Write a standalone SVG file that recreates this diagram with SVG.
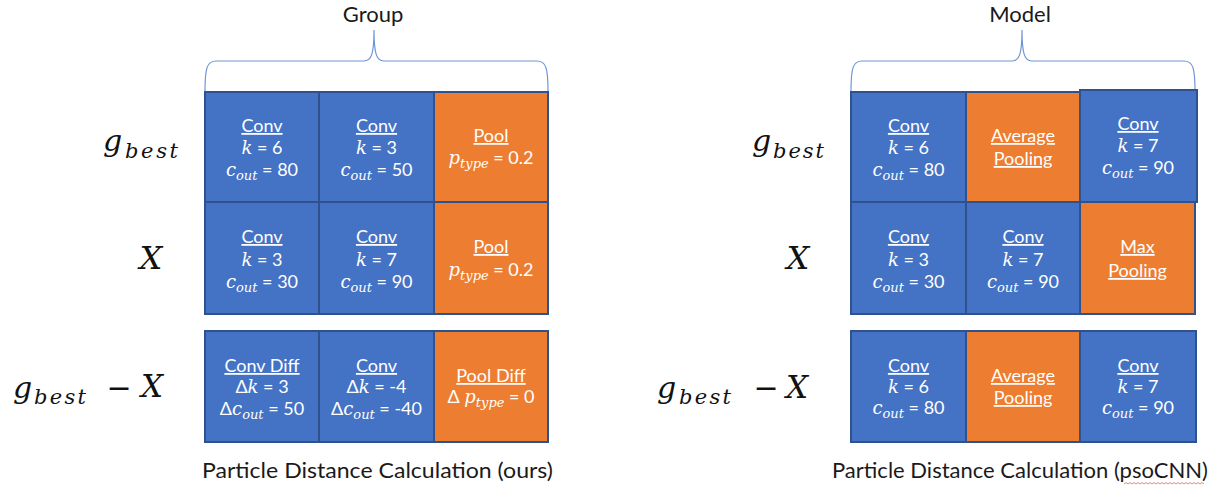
<svg xmlns="http://www.w3.org/2000/svg" width="1224" height="493" viewBox="0 0 1224 493">
  <style>
    .cb { fill: #4472C4; stroke: #2F528F; stroke-width: 2; }
    .co { fill: #ED7D31; stroke: #2F528F; stroke-width: 2; }
    .t { font-family: Lato, "Open Sans", "Liberation Sans", sans-serif; font-size: 18px; fill: #ffffff; text-anchor: middle; }
    .u { text-decoration: underline; }
    .m { font-family: "DejaVu Serif", "Liberation Serif", serif; font-style: italic; font-size: 18px; }
    .s { font-size: 13px; }
    .lbl { font-family: "DejaVu Serif", "Liberation Serif", serif; font-style: italic; fill: #111111; }
    .cap { font-family: Lato, "Open Sans", "Liberation Sans", sans-serif; font-size: 21px; fill: #1a1a1a; text-anchor: middle; }
    .ttl { font-family: Lato, "Open Sans", "Liberation Sans", sans-serif; font-size: 22px; fill: #1a1a1a; text-anchor: middle; }
    .brace { fill: none; stroke: #6F95D8; stroke-width: 1.2; }
  </style>

  <!-- ===== Left panel: particle distance (ours) ===== -->
  <g id="group-title">
    <text class="ttl" x="373" y="22">Group</text>
  </g>
  <g id="connectors">
    <path class="brace" d="M205,91 C205,68 207,61 216,61 L364,61 C371,61 374,55 374,30 C374,55 377,61 384,61 L537,61 C546,61 548,68 548,91"/>
    <path class="brace" d="M851,91 C851,68 853,61 862,61 L1012,61 C1019,61 1022,55 1022,30 C1022,55 1025,61 1032,61 L1184,61 C1193,61 1195,68 1195,91"/>
  </g>

  <!-- row labels, left -->
  <g id="label-gbest-left">
    <text class="lbl" x="103" y="151" style="font-size:30px">g</text>
    <text class="lbl" x="125" y="158" style="font-size:21px" textLength="53" lengthAdjust="spacing">best</text>
  </g>
  <g id="label-x-left">
    <text class="lbl" x="151" y="269" style="font-size:32px" text-anchor="middle">X</text>
  </g>
  <g id="label-diff-left">
    <text class="lbl" x="13" y="398" style="font-size:30px">g</text>
    <text class="lbl" x="34" y="404" style="font-size:21px" textLength="52" lengthAdjust="spacing">best</text>
    <text class="lbl" x="119" y="398" style="font-size:30px;font-style:normal" text-anchor="middle">−</text>
    <text class="lbl" x="152" y="397" style="font-size:31px" text-anchor="middle">X</text>
  </g>

  <!-- row 1, left -->
  <g id="L-g1">
    <rect class="cb" x="205" y="92" width="114" height="110"/>
    <text class="t u" x="262" y="132">Conv</text>
    <text class="t" x="262" y="154"><tspan class="m">k</tspan> = 6</text>
    <text class="t" x="262" y="176"><tspan class="m">c</tspan><tspan class="m s" dy="4">out</tspan><tspan dy="-4"> = 80</tspan></text>
  </g>
  <g id="L-g2">
    <rect class="cb" x="319" y="92" width="115" height="110"/>
    <text class="t u" x="376.5" y="132">Conv</text>
    <text class="t" x="376.5" y="154"><tspan class="m">k</tspan> = 3</text>
    <text class="t" x="376.5" y="176"><tspan class="m">c</tspan><tspan class="m s" dy="4">out</tspan><tspan dy="-4"> = 50</tspan></text>
  </g>
  <g id="L-g3">
    <rect class="co" x="434" y="92" width="114" height="110"/>
    <text class="t u" x="491" y="142">Pool</text>
    <text class="t" x="491" y="164"><tspan class="m">p</tspan><tspan class="m s" dy="4">type</tspan><tspan dy="-4"> = 0.2</tspan></text>
  </g>

  <!-- row 2, left -->
  <g id="L-x1">
    <rect class="cb" x="205" y="202" width="114" height="112"/>
    <text class="t u" x="262" y="243">Conv</text>
    <text class="t" x="262" y="266"><tspan class="m">k</tspan> = 3</text>
    <text class="t" x="262" y="288"><tspan class="m">c</tspan><tspan class="m s" dy="4">out</tspan><tspan dy="-4"> = 30</tspan></text>
  </g>
  <g id="L-x2">
    <rect class="cb" x="319" y="202" width="115" height="112"/>
    <text class="t u" x="376.5" y="243">Conv</text>
    <text class="t" x="376.5" y="266"><tspan class="m">k</tspan> = 7</text>
    <text class="t" x="376.5" y="288"><tspan class="m">c</tspan><tspan class="m s" dy="4">out</tspan><tspan dy="-4"> = 90</tspan></text>
  </g>
  <g id="L-x3">
    <rect class="co" x="434" y="202" width="114" height="112"/>
    <text class="t u" x="491" y="253">Pool</text>
    <text class="t" x="491" y="276"><tspan class="m">p</tspan><tspan class="m s" dy="4">type</tspan><tspan dy="-4"> = 0.2</tspan></text>
  </g>

  <!-- row 3, left -->
  <g id="L-d1">
    <rect class="cb" x="205" y="331" width="114" height="111"/>
    <text class="t u" x="262" y="372">Conv Diff</text>
    <text class="t" x="262" y="393">Δ<tspan class="m">k</tspan> = 3</text>
    <text class="t" x="262" y="415">Δ<tspan class="m">c</tspan><tspan class="m s" dy="4">out</tspan><tspan dy="-4"> = 50</tspan></text>
  </g>
  <g id="L-d2">
    <rect class="cb" x="319" y="331" width="115" height="111"/>
    <text class="t u" x="376.5" y="372">Conv</text>
    <text class="t" x="376.5" y="393">Δ<tspan class="m">k</tspan> = -4</text>
    <text class="t" x="376.5" y="415">Δ<tspan class="m">c</tspan><tspan class="m s" dy="4">out</tspan><tspan dy="-4"> = -40</tspan></text>
  </g>
  <g id="L-d3">
    <rect class="co" x="434" y="331" width="114" height="111"/>
    <text class="t u" x="491" y="382">Pool Diff</text>
    <text class="t" x="491" y="403">Δ <tspan class="m">p</tspan><tspan class="m s" dy="4">type</tspan><tspan dy="-4"> = 0</tspan></text>
  </g>

  <g id="caption-left">
    <text class="cap" x="377.5" y="478" textLength="351" lengthAdjust="spacingAndGlyphs">Particle Distance Calculation (ours)</text>
  </g>

  <!-- ===== Right panel: particle distance (psoCNN) ===== -->
  <g id="model-title">
    <text class="ttl" x="1020" y="22">Model</text>
  </g>

  <g id="label-gbest-right">
    <text class="lbl" x="752" y="151" style="font-size:30px">g</text>
    <text class="lbl" x="773" y="158" style="font-size:21px" textLength="51" lengthAdjust="spacing">best</text>
  </g>
  <g id="label-x-right">
    <text class="lbl" x="798" y="269" style="font-size:32px" text-anchor="middle">X</text>
  </g>
  <g id="label-diff-right">
    <text class="lbl" x="657" y="398" style="font-size:30px">g</text>
    <text class="lbl" x="679" y="404" style="font-size:21px" textLength="52" lengthAdjust="spacing">best</text>
    <text class="lbl" x="766" y="398" style="font-size:30px;font-style:normal" text-anchor="middle">−</text>
    <text class="lbl" x="797" y="398" style="font-size:31px" text-anchor="middle">X</text>
  </g>

  <!-- row 1, right -->
  <g id="R-g1">
    <rect class="cb" x="851" y="92" width="115" height="110"/>
    <text class="t u" x="908.5" y="132">Conv</text>
    <text class="t" x="908.5" y="154"><tspan class="m">k</tspan> = 6</text>
    <text class="t" x="908.5" y="176"><tspan class="m">c</tspan><tspan class="m s" dy="4">out</tspan><tspan dy="-4"> = 80</tspan></text>
  </g>
  <g id="R-g2">
    <rect class="co" x="966" y="92" width="114" height="110"/>
    <text class="t u" x="1023" y="142">Average</text>
    <text class="t u" x="1023" y="165">Pooling</text>
  </g>
  <g id="R-g3">
    <rect class="cb" x="1080" y="90" width="117" height="112"/>
    <text class="t u" x="1138" y="130">Conv</text>
    <text class="t" x="1138" y="152"><tspan class="m">k</tspan> = 7</text>
    <text class="t" x="1138" y="174"><tspan class="m">c</tspan><tspan class="m s" dy="4">out</tspan><tspan dy="-4"> = 90</tspan></text>
  </g>

  <!-- row 2, right -->
  <g id="R-x1">
    <rect class="cb" x="851" y="202" width="115" height="112"/>
    <text class="t u" x="908.5" y="243">Conv</text>
    <text class="t" x="908.5" y="266"><tspan class="m">k</tspan> = 3</text>
    <text class="t" x="908.5" y="288"><tspan class="m">c</tspan><tspan class="m s" dy="4">out</tspan><tspan dy="-4"> = 30</tspan></text>
  </g>
  <g id="R-x2">
    <rect class="cb" x="966" y="202" width="114" height="112"/>
    <text class="t u" x="1023" y="243">Conv</text>
    <text class="t" x="1023" y="266"><tspan class="m">k</tspan> = 7</text>
    <text class="t" x="1023" y="288"><tspan class="m">c</tspan><tspan class="m s" dy="4">out</tspan><tspan dy="-4"> = 90</tspan></text>
  </g>
  <g id="R-x3">
    <rect class="co" x="1080" y="202" width="115" height="112"/>
    <text class="t u" x="1137.5" y="253">Max</text>
    <text class="t u" x="1137.5" y="277">Pooling</text>
  </g>

  <!-- row 3, right -->
  <g id="R-d1">
    <rect class="cb" x="851" y="331" width="115" height="111"/>
    <text class="t u" x="908.5" y="372">Conv</text>
    <text class="t" x="908.5" y="393"><tspan class="m">k</tspan> = 6</text>
    <text class="t" x="908.5" y="414"><tspan class="m">c</tspan><tspan class="m s" dy="4">out</tspan><tspan dy="-4"> = 80</tspan></text>
  </g>
  <g id="R-d2">
    <rect class="co" x="966" y="331" width="114" height="111"/>
    <text class="t u" x="1023" y="382">Average</text>
    <text class="t u" x="1023" y="404">Pooling</text>
  </g>
  <g id="R-d3">
    <rect class="cb" x="1080" y="331" width="116" height="111"/>
    <text class="t u" x="1138" y="372">Conv</text>
    <text class="t" x="1138" y="393"><tspan class="m">k</tspan> = 7</text>
    <text class="t" x="1138" y="414"><tspan class="m">c</tspan><tspan class="m s" dy="4">out</tspan><tspan dy="-4"> = 90</tspan></text>
  </g>

  <g id="caption-right">
    <text class="cap" x="1020" y="478" textLength="376" lengthAdjust="spacingAndGlyphs">Particle Distance Calculation (psoCNN)</text>
    <!-- spell-check squiggle under the acronym -->
    <path d="M1124,484 l2,-1.5 l2,1.5 l2,-1.5 l2,1.5 l2,-1.5 l2,1.5 l2,-1.5 l2,1.5 l2,-1.5 l2,1.5 l2,-1.5 l2,1.5 l2,-1.5 l2,1.5 l2,-1.5 l2,1.5 l2,-1.5 l2,1.5 l2,-1.5 l2,1.5 l2,-1.5 l2,1.5 l2,-1.5 l2,1.5 l2,-1.5 l2,1.5 l2,-1.5 l2,1.5 l2,-1.5 l2,1.5 l2,-1.5 l2,1.5 l2,-1.5 l2,1.5 l2,-1.5 l2,1.5 l2,-1.5 l2,1.5 l2,-1.5 l2,1.5" fill="none" stroke="#E06666" stroke-width="0.8"/>
  </g>
</svg>
